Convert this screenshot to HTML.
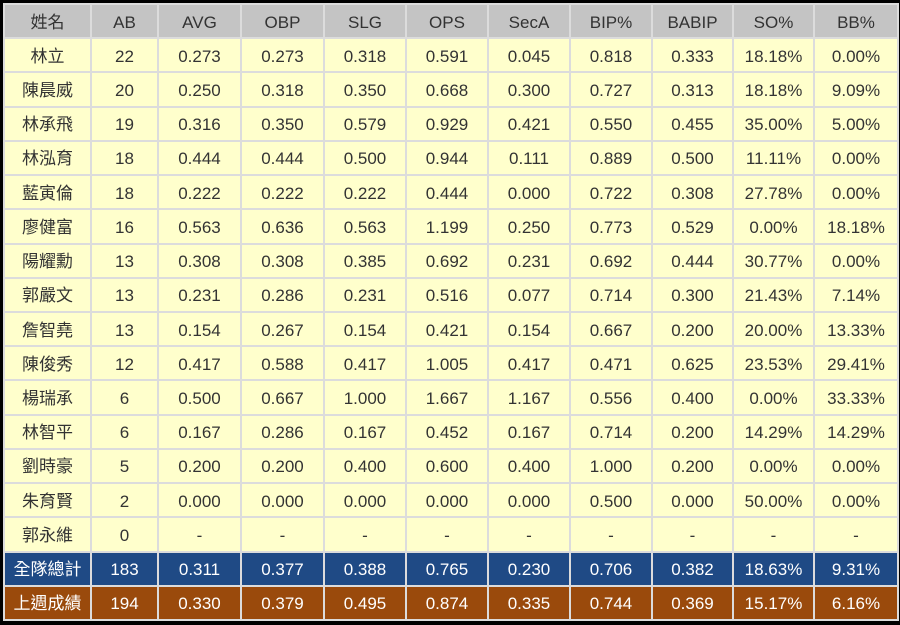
<!DOCTYPE html>
<html><head><meta charset="utf-8"><style>
html,body{margin:0;padding:0;background:#000;width:900px;height:625px;overflow:hidden}
table{position:absolute;left:3px;top:3px;border-collapse:collapse;table-layout:fixed;width:894px;height:618px;font-family:"Liberation Sans","Noto Sans CJK TC",sans-serif;font-size:17px;color:#333}
td{border:2px solid #dcdcdc;text-align:center;background:#ffffcc;padding:3px 0 0 0;height:26px;line-height:20px;vertical-align:middle;overflow:hidden}
tr.h td{background:#c4c4c4}
tr.b td{background:#1f4a85;color:#fff}
tr.o td{background:#9a4a0c;color:#fff}
</style></head><body>
<table>
<colgroup><col style="width:87px"><col style="width:67px"><col style="width:83px"><col style="width:83px"><col style="width:82px"><col style="width:82px"><col style="width:82px"><col style="width:82px"><col style="width:81px"><col style="width:81px"><col style="width:84px"></colgroup>
<tr class="h"><td>姓名</td><td>AB</td><td>AVG</td><td>OBP</td><td>SLG</td><td>OPS</td><td>SecA</td><td>BIP%</td><td>BABIP</td><td>SO%</td><td>BB%</td></tr>
<tr><td>林立</td><td>22</td><td>0.273</td><td>0.273</td><td>0.318</td><td>0.591</td><td>0.045</td><td>0.818</td><td>0.333</td><td>18.18%</td><td>0.00%</td></tr>
<tr><td>陳晨威</td><td>20</td><td>0.250</td><td>0.318</td><td>0.350</td><td>0.668</td><td>0.300</td><td>0.727</td><td>0.313</td><td>18.18%</td><td>9.09%</td></tr>
<tr><td>林承飛</td><td>19</td><td>0.316</td><td>0.350</td><td>0.579</td><td>0.929</td><td>0.421</td><td>0.550</td><td>0.455</td><td>35.00%</td><td>5.00%</td></tr>
<tr><td>林泓育</td><td>18</td><td>0.444</td><td>0.444</td><td>0.500</td><td>0.944</td><td>0.111</td><td>0.889</td><td>0.500</td><td>11.11%</td><td>0.00%</td></tr>
<tr><td>藍寅倫</td><td>18</td><td>0.222</td><td>0.222</td><td>0.222</td><td>0.444</td><td>0.000</td><td>0.722</td><td>0.308</td><td>27.78%</td><td>0.00%</td></tr>
<tr><td>廖健富</td><td>16</td><td>0.563</td><td>0.636</td><td>0.563</td><td>1.199</td><td>0.250</td><td>0.773</td><td>0.529</td><td>0.00%</td><td>18.18%</td></tr>
<tr><td>陽耀勳</td><td>13</td><td>0.308</td><td>0.308</td><td>0.385</td><td>0.692</td><td>0.231</td><td>0.692</td><td>0.444</td><td>30.77%</td><td>0.00%</td></tr>
<tr><td>郭嚴文</td><td>13</td><td>0.231</td><td>0.286</td><td>0.231</td><td>0.516</td><td>0.077</td><td>0.714</td><td>0.300</td><td>21.43%</td><td>7.14%</td></tr>
<tr><td>詹智堯</td><td>13</td><td>0.154</td><td>0.267</td><td>0.154</td><td>0.421</td><td>0.154</td><td>0.667</td><td>0.200</td><td>20.00%</td><td>13.33%</td></tr>
<tr><td>陳俊秀</td><td>12</td><td>0.417</td><td>0.588</td><td>0.417</td><td>1.005</td><td>0.417</td><td>0.471</td><td>0.625</td><td>23.53%</td><td>29.41%</td></tr>
<tr><td>楊瑞承</td><td>6</td><td>0.500</td><td>0.667</td><td>1.000</td><td>1.667</td><td>1.167</td><td>0.556</td><td>0.400</td><td>0.00%</td><td>33.33%</td></tr>
<tr><td>林智平</td><td>6</td><td>0.167</td><td>0.286</td><td>0.167</td><td>0.452</td><td>0.167</td><td>0.714</td><td>0.200</td><td>14.29%</td><td>14.29%</td></tr>
<tr><td>劉時豪</td><td>5</td><td>0.200</td><td>0.200</td><td>0.400</td><td>0.600</td><td>0.400</td><td>1.000</td><td>0.200</td><td>0.00%</td><td>0.00%</td></tr>
<tr><td>朱育賢</td><td>2</td><td>0.000</td><td>0.000</td><td>0.000</td><td>0.000</td><td>0.000</td><td>0.500</td><td>0.000</td><td>50.00%</td><td>0.00%</td></tr>
<tr><td>郭永維</td><td>0</td><td>-</td><td>-</td><td>-</td><td>-</td><td>-</td><td>-</td><td>-</td><td>-</td><td>-</td></tr>
<tr class="b"><td>全隊總計</td><td>183</td><td>0.311</td><td>0.377</td><td>0.388</td><td>0.765</td><td>0.230</td><td>0.706</td><td>0.382</td><td>18.63%</td><td>9.31%</td></tr>
<tr class="o"><td>上週成績</td><td>194</td><td>0.330</td><td>0.379</td><td>0.495</td><td>0.874</td><td>0.335</td><td>0.744</td><td>0.369</td><td>15.17%</td><td>6.16%</td></tr>
</table>
</body></html>
